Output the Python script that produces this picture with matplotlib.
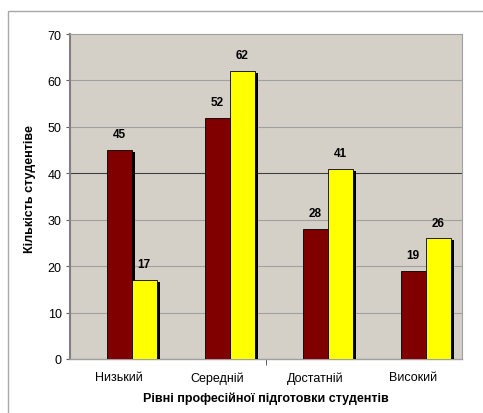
import matplotlib
matplotlib.use("Agg")
import matplotlib.pyplot as plt
from matplotlib.patches import Rectangle
import numpy as np

plt.rcParams['font.family'] = ['Liberation Sans', 'DejaVu Sans']

categories = ["Низький", "Середній", "Достатній", "Високий"]
series_a = [45, 52, 28, 19]
series_b = [17, 62, 41, 26]
y_ticks = [0, 10, 20, 30, 40, 50, 60, 70]

fig = plt.figure(figsize=(4.83, 4.14), dpi=100)
fig.patches.append(Rectangle((8/483, -0.1), 1.2, (414-12)/414 + 0.1,
                             transform=fig.transFigure, fill=False,
                             edgecolor='#A8A8A8', linewidth=1.0))
ax = fig.add_axes([70/483, 54/414, 392/483, 325/414])
ax.set_facecolor('#D4D0C8')

x = np.arange(len(categories))
w = 0.255
off_a = -0.125
off_b = 0.13
sx, sy = 0.03, -0.45

for i in range(len(categories)):
    for off, vals, col in [(off_a, series_a, '#800000'), (off_b, series_b, '#FFFF00')]:
        v = vals[i]
        ax.add_patch(Rectangle((x[i] + off + sx, 0), w, v + sy, facecolor='black',
                               edgecolor='none', zorder=3))
        ax.bar(x[i] + off, v, width=w, align='edge', color=col,
               edgecolor='black', linewidth=0.6, zorder=4)
        ax.text(x[i] + off + w/2, v + 2.1, str(v), ha='center', va='bottom',
                fontsize=8.5, fontweight='bold', zorder=5)

ax.set_xlim(-0.5, 3.5)
ax.set_ylim(0, 70)
ax.set_yticks(y_ticks)
ax.set_yticklabels([str(t) for t in y_ticks], fontsize=9)
for t in y_ticks[1:-1]:
    ax.axhline(t, color='#404040' if t == 40 else '#A0A0A0', linewidth=0.8, zorder=1)

ax.set_xticks(x)
ax.set_xticklabels(categories, fontsize=9)
ax.tick_params(axis='x', length=0, pad=9)
ax.set_xticks([1.5], minor=True)
ax.tick_params(axis='x', which='minor', length=4, color='#404040', direction='out')
ax.tick_params(axis='y', length=3, color='#606060', pad=3)

for s in ['top', 'right']:
    ax.spines[s].set_color('#A0A0A0')
    ax.spines[s].set_linewidth(0.8)
ax.spines['left'].set_color('#808080')
ax.spines['left'].set_linewidth(1.5)
ax.spines['bottom'].set_color('#A0A0A0')
ax.spines['bottom'].set_linewidth(1.0)

ax.set_xlabel("Рівні професійної підготовки студентів", fontsize=9,
              fontweight='bold', va='center')
ax.xaxis.set_label_coords(0.5, -0.12)
ax.set_ylabel("Кількість студентіве", fontsize=9, fontweight='bold', va='center')
ax.yaxis.set_label_coords(-0.102, 0.526)

fig.savefig("out.png", dpi=100)
